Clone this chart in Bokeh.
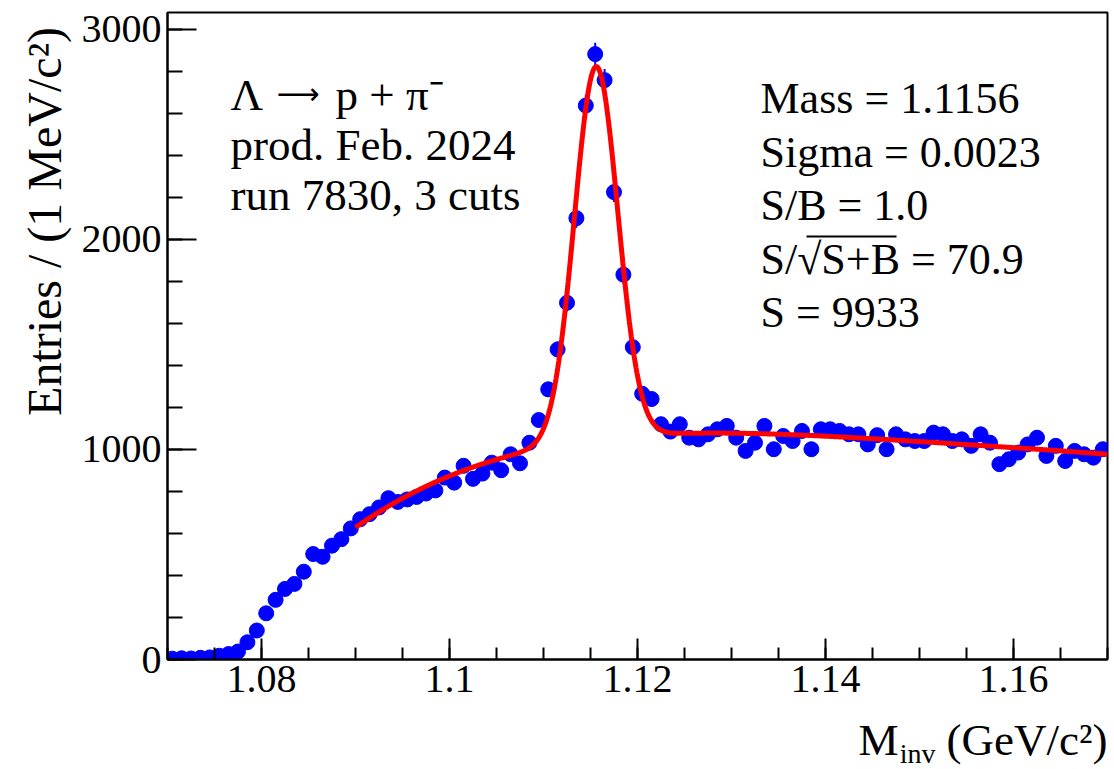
import numpy as np
from bokeh.plotting import figure
from bokeh.layouts import column, row
from bokeh.models import (Label, Range1d, SingleIntervalTicker, CustomJSTickFormatter,
                          ColumnDataSource, BoxAnnotation)
from bokeh.core.properties import value
from bokeh.embed import file_html
from bokeh.resources import INLINE

# ---------------- data ----------------
x_min, x_max = 1.07, 1.17
y_min, y_max = 0, 3080
bin_width = 0.001
counts = [4, 6, 5, 8, 10, 18, 26, 38,
          82, 138, 220, 284, 336, 360, 418, 502,
          489, 542, 573, 624, 668, 692, 724, 768,
          750, 762, 774, 790, 805, 866, 842, 922,
          860, 885, 937, 901, 977, 934, 1032, 1140,
          1286, 1476, 1698, 2101, 2637, 2882, 2758, 2225,
          1832, 1487, 1265, 1240, 1120, 1085, 1120, 1056,
          1048, 1072, 1096, 1112, 1056, 993, 1032, 1112,
          1001, 1064, 1040, 1088, 1001, 1096, 1096, 1088,
          1072, 1072, 1024, 1068, 1001, 1072, 1048, 1040,
          1040, 1080, 1072, 1040, 1048, 1017, 1072, 1032,
          930, 953, 985, 1024, 1056, 969, 1017, 945,
          993, 977, 961, 1001]

# fit: gaussian signal + polynomial background
fit_range = [1.09, 1.17]
mass = 1.1156
sigma = 0.0023
peak_height = 1775
bg_x = [1.0900, 1.0926, 1.0947, 1.0997, 1.1032, 1.1068, 1.1240, 1.1300, 1.1400, 1.1500, 1.1600, 1.1700]
bg_y = [632, 702, 755, 874, 930, 969, 1078, 1074, 1064, 1038, 1008, 977]

decay_parts = ["\u039b", "\u27f6", "p + \u03c0\u207b"]
left_lines = ["prod. Feb. 2024", "run 7830, 3 cuts"]
right_lines = ["Mass = 1.1156", "Sigma = 0.0023", "S/B = 1.0", "S/\u221aS+B = 70.9", "S = 9933"]
x_title_parts = ["M", "inv", "(GeV/c\u00b2)"]
y_title = "Entries / (1 MeV/c\u00b2)"

# ---------------- derived ----------------
counts = np.array(counts, dtype=float)
centers = x_min + (np.arange(len(counts)) + 0.5) * bin_width
err = np.sqrt(counts)
src = ColumnDataSource(dict(x=centers, y=counts, lo=counts - err, hi=counts + err))

t0, ts = 1.13, 0.04
coef = np.polyfit((np.array(bg_x) - t0) / ts, np.array(bg_y), 4)
fx = np.linspace(fit_range[0], fit_range[1], 800)
fy = np.polyval(coef, (fx - t0) / ts) + peak_height * np.exp(-0.5 * ((fx - mass) / sigma) ** 2)

# ---------------- layout geometry (page pixels) ----------------
W, H = 1114, 769
YT_W = 72            # width of the strip holding the y title
XT_H = 55            # height of the strip holding the x title
FL, FR, FT, FB = 167, 1107, 12, 659   # plot frame in page pixels
MAIN_W, MAIN_H = W - YT_W, H - XT_H
FONT = "Liberation Serif"
BASE_SHIFT = 0.38    # rendered baseline sits this many em below the anchor

p = figure(width=MAIN_W, height=MAIN_H, x_range=Range1d(x_min, x_max), y_range=Range1d(y_min, y_max),
           output_backend="svg", toolbar_location=None,
           min_border_left=FL - YT_W, min_border_right=W - FR, min_border_top=FT,
           min_border_bottom=MAIN_H - FB)
p.xgrid.visible = False
p.ygrid.visible = False
p.background_fill_color = "white"
p.border_fill_color = "white"
p.outline_line_color = "black"
p.outline_line_width = 2

xa = p.xaxis[0]
ya = p.yaxis[0]
xa.ticker = SingleIntervalTicker(interval=0.02, num_minor_ticks=4)
xa.formatter = CustomJSTickFormatter(code="return String(Math.round(tick*1000)/1000);")
ya.ticker = SingleIntervalTicker(interval=1000, num_minor_ticks=5)
for ax in (xa, ya):
    ax.axis_line_width = 2
    ax.axis_line_color = "black"
    ax.major_tick_line_width = 2
    ax.minor_tick_line_width = 2
    ax.major_tick_line_color = "black"
    ax.minor_tick_line_color = "black"
    ax.major_tick_out = 0
    ax.minor_tick_out = 0
    ax.major_label_text_font = FONT
    ax.major_label_text_font_size = "40px"
    ax.major_label_text_color = "black"
    ax.major_label_standoff = 6
xa.major_tick_in = 21
xa.minor_tick_in = 12
ya.major_tick_in = 29
ya.minor_tick_in = 15

# data points with error bars
p.segment(x0="x", y0="lo", x1="x", y1="hi", source=src, line_color="blue", line_width=2)
p.scatter("x", "y", source=src, size=15, marker="circle", fill_color="blue", line_color="blue")
# fit
p.line(fx, fy, line_color="red", line_width=5)


def lab(text, px, py, size, font=FONT):
    # px, py: page pixels of the wanted baseline start
    p.add_layout(Label(x=px - FL, y=FB - (py - BASE_SHIFT * size), x_units="screen", y_units="screen",
                       text=text, text_font=font, text_font_size=f"{size}px", text_color="black",
                       text_align="left", text_baseline="alphabetic"))


# left text block
lab(decay_parts[0], 230, 112, 45)
lab(decay_parts[1], 276, 104, 30, font="DejaVu Sans")
lab(decay_parts[2], 335, 112, 45)
for i, t in enumerate(left_lines):
    lab(t, 230, 162 + i * 49.5, 45)
# right text block
for i, t in enumerate(right_lines):
    lab(t, 760, 115 + i * 53.5, 44)
# overline of the square root
p.add_layout(BoxAnnotation(left=806 - FL, right=896 - FL, top=FB - 235, bottom=FB - 237,
                           left_units="screen", right_units="screen", top_units="screen",
                           bottom_units="screen", fill_color="black", fill_alpha=1,
                           line_color="black", line_width=0))

# ---------------- y title strip ----------------
YT_SIZE = 48
py_ = figure(width=YT_W, height=MAIN_H, x_range=Range1d(0, YT_W), y_range=Range1d(0, MAIN_H),
             output_backend="svg", toolbar_location=None, x_axis_location=None, y_axis_location=None,
             min_border=0, outline_line_color=None)
py_.xgrid.visible = False
py_.ygrid.visible = False
py_.text(x=[62 - BASE_SHIFT * YT_SIZE], y=[MAIN_H - 16], text=[y_title], angle=np.pi / 2,
         text_align="right", text_baseline="alphabetic", text_font=value(FONT),
         text_font_size=f"{YT_SIZE}px", text_color="black")

# ---------------- x title strip ----------------
XT_SIZE = 45
SUB_SIZE = 28
px_ = figure(width=W, height=XT_H, x_range=Range1d(0, W), y_range=Range1d(0, XT_H),
             output_backend="svg", toolbar_location=None, x_axis_location=None, y_axis_location=None,
             min_border=0, outline_line_color=None)
px_.xgrid.visible = False
px_.ygrid.visible = False


def xt(text, right_px, base_py, size):
    px_.text(x=[right_px], y=[H - (base_py - BASE_SHIFT * size)], text=[text], text_align="right",
             text_baseline="alphabetic", text_font=value(FONT), text_font_size=f"{size}px",
             text_color="black")


xt(x_title_parts[2], 1107, 757, XT_SIZE)
xt(x_title_parts[1], 1107 - 162 - 10, 764, SUB_SIZE)
xt(x_title_parts[0], 1107 - 162 - 10 - 37, 757, XT_SIZE)

layout = column(row(py_, p, spacing=0), px_, spacing=0)
open("out.html", "w").write(file_html(layout, INLINE))
